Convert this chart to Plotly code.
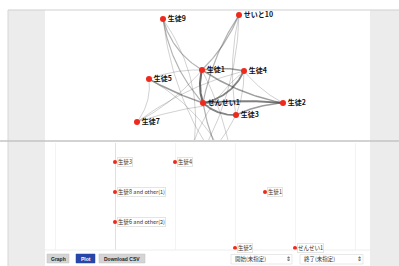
import numpy as np
import plotly.graph_objects as go

W, H = 399, 266
FONT = "Noto Sans CJK JP"

# ---------- network data ----------
node_names = ["生徒9", "せいと10", "生徒1", "生徒4", "生徒5", "せんせい1", "生徒2", "生徒3", "生徒7", "生徒6", "生徒8"]
node_x = [118, 194, 157, 199, 104, 158, 238, 191, 92, 140, 190]
node_y = [121, 125, 70, 69, 61, 37, 37, 25, 18, -40, -45]
edge_src = ["せんせい1", "せんせい1", "せんせい1", "せんせい1", "せんせい1", "生徒1", "生徒1", "生徒1", "生徒9",
            "生徒9", "せいと10", "せいと10", "せいと10", "生徒5", "生徒5", "生徒7", "生徒7", "生徒3", "生徒4",
            "生徒4", "生徒1", "せんせい1", "生徒5", "生徒3", "生徒7", "生徒2", "生徒9", "せいと10"]
edge_dst = ["生徒1", "生徒4", "生徒2", "生徒3", "生徒5", "生徒2", "生徒4", "生徒9", "せんせい1",
            "生徒6", "生徒1", "せんせい1", "生徒3", "生徒7", "生徒1", "生徒1", "生徒2", "生徒2", "生徒3",
            "生徒6", "生徒8", "生徒8", "生徒8", "生徒6", "生徒4", "生徒4", "生徒8", "生徒6"]
edge_weight = [5, 4, 4, 4, 3, 3, 3, 2, 2, 1, 2, 2, 1, 1, 1, 1, 1, 3, 1, 1, 1, 2, 1, 1, 1, 1, 1, 1]
edge_bend = [0.15, -0.25, 0.05, -0.2, 0.05, -0.1, 0.1, 0.2, -0.15, 0.25, 0.1, -0.1, -0.1, 0.2, 0.1, -0.1, 0.1, 0.1, 0.1, -0.2, 0.1, -0.1, 0.2, 0.1, 0.1, 0.1, -0.15, 0.15]

# ---------- plot data ----------
pt_labels = ["生徒3", "生徒4", "生徒8 and other(1)", "生徒1", "生徒6 and other(2)", "生徒5", "せんせい1"]
pt_x = [0, 2, 0, 5, 0, 4, 6]
pt_y = [3, 3, 2, 2, 1, 0.13, 0.13]

def px(x):
    return x / W

def py(y):
    return 1 - y / H

fig = go.Figure()
pos = {n: (x, y) for n, x, y in zip(node_names, node_x, node_y)}

for s, d, w, b in zip(edge_src, edge_dst, edge_weight, edge_bend):
    x0, y0 = pos[s]
    x1, y1 = pos[d]
    mx, my = (x0 + x1) / 2, (y0 + y1) / 2
    dx, dy = x1 - x0, y1 - y0
    cx, cy = mx - dy * b, my + dx * b
    t = np.linspace(0, 1, 40)
    bx = (1 - t) ** 2 * x0 + 2 * (1 - t) * t * cx + t ** 2 * x1
    by = (1 - t) ** 2 * y0 + 2 * (1 - t) * t * cy + t ** 2 * y1
    alpha = 0.15 + 0.13 * w
    fig.add_trace(go.Scatter(x=bx, y=by, mode="lines", xaxis="x", yaxis="y",
                             line=dict(color=f"rgba(70,70,70,{alpha:.2f})", width=0.6 + 0.3 * w),
                             hoverinfo="skip", showlegend=False))

fig.add_trace(go.Scatter(x=node_x, y=node_y, mode="markers+text", xaxis="x", yaxis="y",
                         text=["<b>%s</b>" % n for n in node_names], textposition="middle right",
                         textfont=dict(family=FONT, size=7, color="#111"),
                         marker=dict(color="#ee2a1e", size=6), showlegend=False))

fig.add_trace(go.Scatter(x=pt_x, y=pt_y, mode="markers", xaxis="x2", yaxis="y2", cliponaxis=False,
                         marker=dict(color="#ee2a1e", size=4), showlegend=False))

annotations = []
for lab, x, y in zip(pt_labels, pt_x, pt_y):
    annotations.append(dict(x=x, y=y, xref="x2", yref="y2", text=lab, showarrow=False,
                            xanchor="left", yanchor="middle", xshift=2,
                            font=dict(family=FONT, size=5.5, color="#333"),
                            bgcolor="white", bordercolor="#e4e4e4", borderwidth=1, borderpad=0))

shapes = [
    dict(type="rect", xref="paper", yref="paper", x0=px(8), x1=px(45), y0=0, y1=py(10),
         fillcolor="#ececec", line_width=0, layer="below"),
    dict(type="rect", xref="paper", yref="paper", x0=px(370), x1=1, y0=0, y1=py(10),
         fillcolor="#ececec", line_width=0, layer="below"),
    dict(type="line", xref="paper", yref="paper", x0=px(8), x1=1, y0=py(10), y1=py(10),
         line=dict(color="#cfcfcf", width=1)),
    dict(type="line", xref="paper", yref="paper", x0=px(8), x1=px(8), y0=0, y1=py(10),
         line=dict(color="#d6d6d6", width=1)),
    dict(type="line", xref="paper", yref="paper", x0=0, x1=1, y0=py(141), y1=py(141),
         line=dict(color="#c4c4c4", width=1.5)),
    dict(type="line", xref="paper", yref="paper", x0=px(45), x1=px(370), y0=py(250), y1=py(250),
         line=dict(color="#eeeeee", width=1)),
    # controls
    dict(type="rect", xref="paper", yref="paper", x0=px(47), x1=px(69), y0=py(263), y1=py(254),
         fillcolor="#d4d4d4", line=dict(color="#c0c0c0", width=0.5)),
    dict(type="rect", xref="paper", yref="paper", x0=px(76), x1=px(95), y0=py(263), y1=py(254),
         fillcolor="#2746a8", line=dict(color="#2746a8", width=0.5)),
    dict(type="rect", xref="paper", yref="paper", x0=px(99), x1=px(145), y0=py(263), y1=py(254),
         fillcolor="#d4d4d4", line=dict(color="#c0c0c0", width=0.5)),
    dict(type="rect", xref="paper", yref="paper", x0=px(231), x1=px(292), y0=py(264), y1=py(254.5),
         fillcolor="white", line=dict(color="#d0d0d0", width=0.5)),
    dict(type="rect", xref="paper", yref="paper", x0=px(300), x1=px(363), y0=py(264), y1=py(254.5),
         fillcolor="white", line=dict(color="#d0d0d0", width=0.5)),
]

ctrl = [("<b>Graph</b>", 58, "#222"), ("<b>Plot</b>", 85.5, "white"), ("<b>Download CSV</b>", 122, "#222")]
for t, x, c in ctrl:
    annotations.append(dict(x=px(x), y=py(258.5), xref="paper", yref="paper", text=t, showarrow=False,
                            xanchor="center", yanchor="middle",
                            font=dict(family="Liberation Sans", size=5, color=c)))
for t, x0, x1 in [("開始(未指定)", 233, 288), ("終了(未指定)", 302, 359)]:
    annotations.append(dict(x=px(x0), y=py(259.3), xref="paper", yref="paper", text=t, showarrow=False,
                            xanchor="left", yanchor="middle", font=dict(family=FONT, size=5.5, color="#333")))
    annotations.append(dict(x=px(x1), y=py(259.3), xref="paper", yref="paper", text="⇕", showarrow=False,
                            xanchor="center", yanchor="middle", font=dict(family=FONT, size=5.5, color="#333")))

fig.update_layout(
    width=W, height=H, margin=dict(l=0, r=0, t=0, b=0),
    paper_bgcolor="white", plot_bgcolor="white",
    xaxis=dict(domain=[px(45), px(370)], range=[0, 325], visible=False, fixedrange=True),
    yaxis=dict(domain=[py(140), py(11)], range=[0, 129], visible=False, fixedrange=True),
    xaxis2=dict(domain=[px(45), px(370)], range=[-70 / 30, 255 / 30], showticklabels=False,
                showgrid=True, gridcolor="#f3f3f3", dtick=2, zeroline=True, zerolinecolor="#e0e0e0",
                zerolinewidth=1, anchor="y2", fixedrange=True),
    yaxis2=dict(domain=[py(250), py(143)], range=[3 - 88 / 30, 3 + 19 / 30], showticklabels=False,
                showgrid=False, zeroline=False, anchor="x2", fixedrange=True),
    shapes=shapes, annotations=annotations, showlegend=False,
)

fig.write_html("out.html", config={"displayModeBar": False},
               post_script="document.body.style.margin='0';document.body.style.overflow='hidden';")
